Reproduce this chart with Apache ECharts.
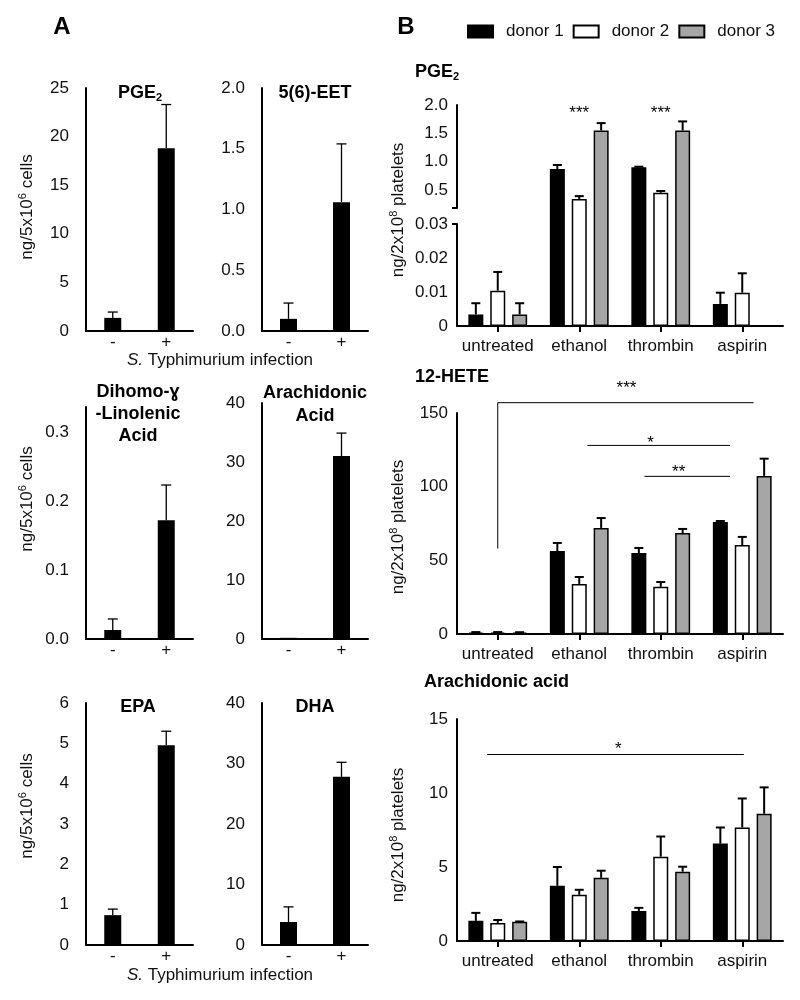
<!DOCTYPE html>
<html>
<head>
<meta charset="utf-8">
<script src="https://cdn.jsdelivr.net/npm/echarts@6/dist/echarts.min.js"></script>
<style>
  html, body { margin: 0; padding: 0; background: #fff; }
  #chart { width: 800px; height: 1000px; }
</style>
</head>
<body>
<div id="chart"></div>
<script>
// ---- panel A : macrophages, S. Typhimurium infection - / + ----
var infection = ['-', '+'];
var aPge2 = [1.35, 18.8];
var aPge2Sd = [0.6, 4.5];
var aEet = [0.10, 1.06];
var aEetSd = [0.13, 0.48];
var aDgla = [0.013, 0.172];
var aDglaSd = [0.016, 0.051];
var aAa = [0.2, 31.0];
var aAaSd = [0, 3.9];
var aEpa = [0.74, 4.95];
var aEpaSd = [0.15, 0.35];
var aDha = [3.8, 27.8];
var aDhaSd = [2.5, 2.4];

// ---- panel B : platelets, 3 donors ----
var treatments = ['untreated', 'ethanol', 'thrombin', 'aspirin'];
var donors = ['donor 1', 'donor 2', 'donor 3'];
var bPge2 = [[0.0034, 0.87, 0.90, 0.0065], [0.0104, 0.34, 0.45, 0.0098], [0.0034, 1.55, 1.55, 0]];
var bPge2Sd = [[0.0033, 0.07, 0.01, 0.0033], [0.0055, 0.05, 0.03, 0.0057], [0.0033, 0.13, 0.16, 0]];
var bHete = [[1, 56.3, 55, 76], [1, 34, 32, 60.4], [1, 72, 68.6, 107.3]];
var bHeteSd = [[0.3, 5.5, 3.4, 0.7], [0.3, 4.7, 3.3, 5.5], [0.2, 6.7, 2.7, 11.7]];
var bAa = [[1.36, 3.73, 2.03, 6.58], [1.22, 3.12, 5.7, 7.67], [1.3, 4.27, 4.68, 8.6]];
var bAaSd = [[0.54, 1.27, 0.21, 1.09], [0.2, 0.34, 1.36, 1.96], [0.02, 0.48, 0.34, 1.78]];

// broken PGE2 axis: upper / lower segments
var pgeUpperTicks = [0.5, 1.0, 1.5, 2.0];
var pgeUpperMin = 0.18;
var pgeLowerMax = 0.03;

// significance bars [x from, x to, y, y of drop line] and their marks
var pgeSigMarks = ['***', '***'];
var pgeSigPos = [[1, 1.95], [2, 1.95]];
var heteSigLines = [[0, 3.14, 157, 58], [1.1, 2.85, 128, 128], [1.8, 2.85, 107, 107]];
var heteSigMarks = ['***', '*', '**'];
var heteSigPos = [[1.58, 170], [1.875, 133], [2.22, 113]];
var aaSigLines = [[-0.13, 3.02, 12.6, 12.6]];
var aaSigMarks = ['*'];
var aaSigPos = [[1.48, 13.3]];

var FONT = 'Liberation Sans, Arial, Helvetica, sans-serif';
var donorFill = ['#000000', '#ffffff', '#a6a6a6'];
var BW = 15, GAP = 0.46;

var chart = echarts.init(document.getElementById('chart'));
var grids = [], xAxes = [], yAxes = [], series = [];

function addGrid(box) {
  grids.push({left: box[0], top: box[1], width: box[2], height: box[3]});
  return grids.length - 1;
}

function stepFormatter(step, dec) {
  return function (v) {
    var k = v / step;
    if (Math.abs(k - Math.round(k)) > 1e-6) return '';
    return v === 0 && dec === 2 ? '0' : v.toFixed(dec);
  };
}

function errSeries(g, xIdx, vals, sds, offset, cap, lw) {
  return {
    type: 'custom', xAxisIndex: xIdx, yAxisIndex: g, z: 5, silent: true,
    data: vals.map(function (v, i) { return [i, v, sds[i]]; }),
    renderItem: function (params, api) {
      var v = api.value(1), sd = api.value(2);
      if (isNaN(v) || !(sd > 0)) return null;
      var base = api.coord([api.value(0), v]);
      var top = api.coord([api.value(0), v + sd]);
      var x = base[0] + offset;
      var st = {stroke: '#000', lineWidth: lw};
      return {type: 'group', children: [
        {type: 'line', shape: {x1: x, y1: base[1], x2: x, y2: top[1]}, style: st},
        {type: 'line', shape: {x1: x - cap / 2, y1: top[1], x2: x + cap / 2, y2: top[1]}, style: st}
      ]};
    }
  };
}

function sigLineSeries(g, xIdx, lines) {
  return {
    type: 'custom', xAxisIndex: xIdx, yAxisIndex: g, z: 6, silent: true,
    data: lines,
    renderItem: function (params, api) {
      var a = api.coord([api.value(0), api.value(2)]);
      var b = api.coord([api.value(1), api.value(2)]);
      var d = api.coord([api.value(0), api.value(3)]);
      return {type: 'polyline', shape: {points: [d, a, b]},
        style: {stroke: '#000', lineWidth: 1, fill: null}};
    }
  };
}

function sigTextSeries(g, xIdx, pos, marks) {
  return {
    type: 'custom', xAxisIndex: xIdx, yAxisIndex: g, z: 6, silent: true,
    data: pos,
    renderItem: function (params, api) {
      var p = api.coord([api.value(0), api.value(1)]);
      return {type: 'text', x: p[0], y: p[1] + 5,
        style: {text: marks[params.dataIndex], fill: '#000', fontSize: 17, fontFamily: FONT,
          align: 'center', verticalAlign: 'middle', textAlign: 'center', textVerticalAlign: 'middle'}};
    }
  };
}

// ---------- panel A ----------
var aBoxes = [[86, 88, 107, 243], [262, 88, 106, 243], [86, 407, 107, 232],
              [262, 403, 106, 236], [86, 703, 107, 242], [262, 703, 106, 242]];
var aSets = [[aPge2, aPge2Sd, 25, 5, 0], [aEet, aEetSd, 2, 0.5, 1], [aDgla, aDglaSd, 0.336, 0.1, 1],
             [aAa, aAaSd, 40, 10, 0], [aEpa, aEpaSd, 6, 1, 0], [aDha, aDhaSd, 40, 10, 0]];

aSets.forEach(function (s, k) {
  var g = addGrid(aBoxes[k]);
  xAxes.push({
    type: 'category', gridIndex: g, data: infection,
    axisLine: {lineStyle: {color: '#000', width: 2}},
    axisTick: {show: false},
    axisLabel: {fontSize: 17, color: '#111', fontFamily: FONT, margin: 3}
  });
  yAxes.push({
    type: 'value', gridIndex: g, min: 0, max: s[2], interval: s[3],
    splitLine: {show: false},
    axisLine: {show: true, lineStyle: {color: '#000', width: 2}},
    axisTick: {show: false},
    axisLabel: {fontSize: 17, color: '#111', fontFamily: FONT, margin: 17, formatter: stepFormatter(s[3], s[4])}
  });
  series.push({
    type: 'bar', xAxisIndex: g, yAxisIndex: g, data: s[0], barWidth: 17, silent: true,
    itemStyle: {color: '#000'}
  });
  series.push(errSeries(g, g, s[0], s[1], 0, 10, 1.3));
});

// ---------- panel B ----------
var gUp = addGrid([457, 105, 326, 103]);
var gLow = addGrid([457, 224, 326, 102]);
var gHete = addGrid([457, 413, 326, 221]);
var gAa = addGrid([457, 719, 326, 222]);

function bXAxis(g, hidden) {
  return {
    type: 'category', gridIndex: g, data: treatments, show: !hidden,
    axisLine: {lineStyle: {color: '#000', width: 2}},
    axisTick: {show: true, alignWithLabel: true, length: 6, lineStyle: {color: '#000', width: 2}},
    axisLabel: {fontSize: 17, color: '#111', fontFamily: FONT, margin: 12, interval: 0}
  };
}
xAxes.push(bXAxis(gUp, true), bXAxis(gLow), bXAxis(gHete), bXAxis(gAa));

var bLabel = {fontSize: 17, color: '#111', fontFamily: FONT, margin: 9};
var bLine = {show: true, onZero: false, lineStyle: {color: '#000', width: 2}};
var upBox = grids[gUp], lowBox = grids[gLow];
// value at the lower baseline, so the tall bars run down through the break
var upStart = pgeUpperMin - (lowBox.top + lowBox.height - upBox.top - upBox.height) *
  (2 - pgeUpperMin) / upBox.height;

yAxes.push({
  type: 'value', gridIndex: gUp, min: pgeUpperMin, max: 2, startValue: upStart,
  splitLine: {show: false}, axisLine: bLine,
  axisTick: {show: true, customValues: [pgeUpperMin], length: 5, lineStyle: {color: '#000', width: 2}},
  axisLabel: Object.assign({customValues: pgeUpperTicks, formatter: function (v) { return v.toFixed(1); }}, bLabel)
});
yAxes.push({
  type: 'value', gridIndex: gLow, min: 0, max: pgeLowerMax, interval: 0.01,
  splitLine: {show: false}, axisLine: bLine,
  axisTick: {show: true, customValues: [pgeLowerMax], length: 5, lineStyle: {color: '#000', width: 2}},
  axisLabel: Object.assign({formatter: stepFormatter(0.01, 2)}, bLabel)
});
yAxes.push({
  type: 'value', gridIndex: gHete, min: 0, max: 150, interval: 50,
  splitLine: {show: false}, axisLine: bLine, axisTick: {show: false}, axisLabel: bLabel
});
yAxes.push({
  type: 'value', gridIndex: gAa, min: 0, max: 15, interval: 5,
  splitLine: {show: false}, axisLine: bLine, axisTick: {show: false}, axisLabel: bLabel
});

// hidden value axes used to place significance bars between categories
var xsUp = xAxes.length;
xAxes.push({type: 'value', gridIndex: gUp, min: -0.5, max: 3.5, show: false});
var xsHete = xAxes.length;
xAxes.push({type: 'value', gridIndex: gHete, min: -0.5, max: 3.5, show: false});
var xsAa = xAxes.length;
xAxes.push({type: 'value', gridIndex: gAa, min: -0.5, max: 3.5, show: false});

function donorBar(g, i, data, clip) {
  return {
    type: 'bar', name: donors[i], xAxisIndex: g, yAxisIndex: g, data: data,
    barWidth: BW, barGap: (GAP * 100) + '%', clip: clip, silent: true, z: 3,
    itemStyle: {color: donorFill[i], borderColor: '#000', borderWidth: 1.5}
  };
}

donors.forEach(function (d, i) {
  var off = (i - 1) * BW * (1 + GAP);
  var up = bPge2[i].map(function (v) { return v > pgeLowerMax ? v : '-'; });
  var low = bPge2[i].map(function (v) { return v <= pgeLowerMax ? v : '-'; });
  series.push(donorBar(gUp, i, up, false));
  series.push(donorBar(gLow, i, low, true));
  series.push(errSeries(gUp, gUp, up, bPge2Sd[i], off, 9, 2));
  series.push(errSeries(gLow, gLow, low, bPge2Sd[i], off, 9, 2));

  series.push(donorBar(gHete, i, bHete[i], true));
  series.push(errSeries(gHete, gHete, bHete[i], bHeteSd[i], off, 9, 2));

  series.push(donorBar(gAa, i, bAa[i], true));
  series.push(errSeries(gAa, gAa, bAa[i], bAaSd[i], off, 9, 2));
});

series.push(sigTextSeries(gUp, xsUp, pgeSigPos, pgeSigMarks));
series.push(sigLineSeries(gHete, xsHete, heteSigLines));
series.push(sigTextSeries(gHete, xsHete, heteSigPos, heteSigMarks));
series.push(sigLineSeries(gAa, xsAa, aaSigLines));
series.push(sigTextSeries(gAa, xsAa, aaSigPos, aaSigMarks));

// ---------- texts ----------
function txt(x, y, text, rich, rot) {
  return {
    type: 'text', x: x, y: y, rotation: rot || 0, silent: true,
    style: {text: text, rich: rich, fill: '#111', fontFamily: FONT, fontSize: 17,
      align: 'center', verticalAlign: 'middle', textAlign: 'center', textVerticalAlign: 'middle'}
  };
}
var richTitle = {
  t: {fontSize: 18, fontWeight: 'bold', fontFamily: FONT, lineHeight: 20, fill: '#000', color: '#000'},
  u: {fontSize: 11, fontWeight: 'bold', fontFamily: FONT, verticalAlign: 'bottom', lineHeight: 8, fill: '#000', color: '#000'}
};
var richName = {
  n: {fontSize: 17, fontFamily: FONT, lineHeight: 20, color: '#111'},
  s: {fontSize: 11, fontFamily: FONT, verticalAlign: 'top', lineHeight: 8, color: '#444'},
  i: {fontSize: 17, fontFamily: FONT, fontStyle: 'italic', lineHeight: 20, color: '#111'}
};
function bold(x, y, text, align) {
  var el = txt(x, y, text, richTitle);
  if (align) { el.style.align = align; el.style.textAlign = align; }
  return el;
}
var yNameA = '{n|ng/5x10}{s|6}{n| cells}';
var yNameB = '{n|ng/2x10}{s|8}{n| platelets}';
var infName = '{i|S.}{n| Typhimurium infection}';

var graphics = [
  bold(62, 27, '{t|A}'), bold(406, 27, '{t|B}'),
  bold(140, 93, '{t|PGE}{u|2}'), bold(315, 93, '{t|5(6)-EET}'),
  bold(138, 392, '{t|Dihomo-ɣ}'), bold(138, 414, '{t|-Linolenic}'), bold(138, 436, '{t|Acid}'),
  bold(315, 393, '{t|Arachidonic}'), bold(315, 416, '{t|Acid}'),
  bold(138, 707, '{t|EPA}'), bold(315, 707, '{t|DHA}'),
  bold(415, 72, '{t|PGE}{u|2}', 'left'),
  bold(415, 377, '{t|12-HETE}', 'left'),
  bold(424, 682, '{t|Arachidonic acid}', 'left'),
  txt(27, 207, yNameA, richName, Math.PI / 2),
  txt(27, 499, yNameA, richName, Math.PI / 2),
  txt(27, 806, yNameA, richName, Math.PI / 2),
  txt(398, 210, yNameB, richName, Math.PI / 2),
  txt(398, 527, yNameB, richName, Math.PI / 2),
  txt(398, 835, yNameB, richName, Math.PI / 2),
  txt(220, 360, infName, richName),
  txt(220, 975, infName, richName)
];
graphics[0].style.rich = {t: Object.assign({}, richTitle.t, {fontSize: 24, lineHeight: 26})};
graphics[1].style.rich = graphics[0].style.rich;

chart.setOption({
  animation: false,
  backgroundColor: '#fff',
  textStyle: {fontFamily: FONT},
  legend: {
    data: donors, left: 467, top: 23, padding: 0, itemWidth: 25, itemHeight: 12, itemGap: 9,
    selectedMode: false, icon: 'rect',
    textStyle: {fontSize: 17, color: '#111', fontFamily: FONT, padding: [0, 0, 0, 8]}
  },
  grid: grids,
  xAxis: xAxes,
  yAxis: yAxes,
  series: series,
  graphic: graphics
});
</script>
</body>
</html>
